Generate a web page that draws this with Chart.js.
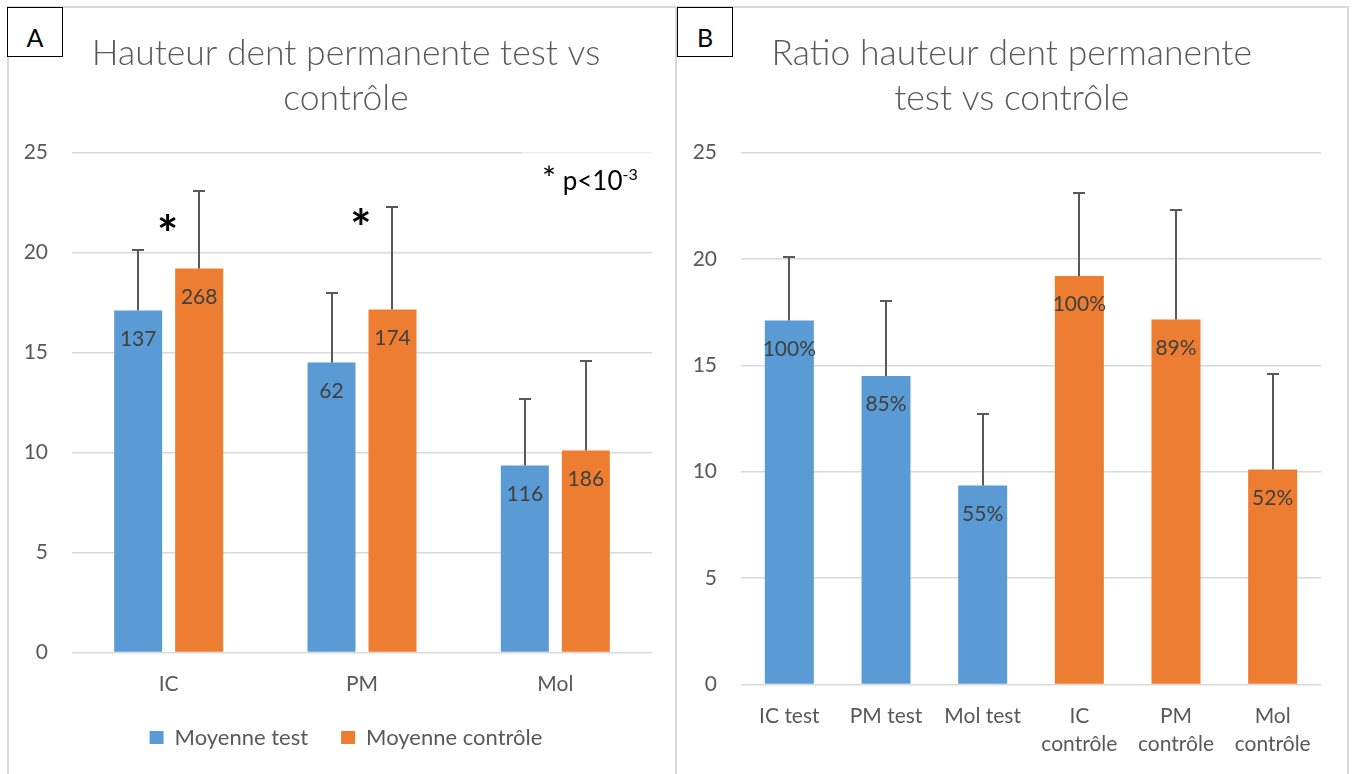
<!DOCTYPE html>
<html lang="fr">
<head>
<meta charset="utf-8">
<title>Hauteur dent permanente test vs contrôle</title>
<script src="https://cdn.jsdelivr.net/npm/chart.js@4.4.1/dist/chart.umd.min.js"></script>
<style>
  html, body { margin: 0; padding: 0; background: #fff; }
  body { width: 1352px; height: 774px; position: relative; overflow: hidden; font-family: Lato, 'Open Sans', sans-serif; }
  canvas { position: absolute; top: 0; }
  #chartA { left: 0; }
  #chartB { left: 676px; }
  .line { position: absolute; background: #d9d9d9; z-index: 2; }
  .tag { position: absolute; top: 7px; width: 54px; height: 43px; padding-top: 5px; border: 1px solid #000; background: #fff;
         font-size: 25px; line-height: 48px; text-align: center; color: #000; z-index: 3; }
  .pnote { position: absolute; left: 522px; top: 140px; width: 130px; height: 60px; background: rgba(255,255,255,0.55); z-index: 3; }
  .pnote span.t { position: absolute; left: 20px; top: 25px; font-size: 26px; line-height: 30px; color: #000; white-space: nowrap; }
  .pnote span.star { font-size: 33px; line-height: 0; }
  .pnote sup { font-size: 16px; position: relative; top: -10px; vertical-align: baseline; line-height: 0; }
</style>
</head>
<body>
<canvas id="chartA" width="676" height="774"></canvas>
<canvas id="chartB" width="676" height="774"></canvas>

<div class="line" style="left:8px; top:6px; width:1340px; height:2px;"></div>
<div class="line" style="left:7px; top:6px; width:2px; height:768px;"></div>
<div class="line" style="left:675px; top:6px; width:2px; height:768px;"></div>
<div class="line" style="left:1347px; top:6px; width:2px; height:768px;"></div>
<div class="tag" style="left:7px;">A</div>
<div class="tag" style="left:677px;">B</div>
<div class="pnote"><span class="t"><span class="star">*</span> p&lt;10<sup>-3</sup></span></div>

<script>
// ---- data ----
const groups = ['IC', 'PM', 'Mol'];
const testMean = [17.1, 14.5, 9.35];
const ctrlMean = [19.2, 17.15, 10.1];
const testSD = [3.0, 3.5, 3.35];
const ctrlSD = [3.9, 5.15, 4.5];
const testN = ['137', '62', '116'];
const ctrlN = ['268', '174', '186'];
const testRatio = ['100%', '85%', '55%'];
const ctrlRatio = ['100%', '89%', '52%'];
const starLevel = [21.5, 21.8, null];   // height of the "*" marks, in axis units
const ratioLabels = ['IC test', 'PM test', 'Mol test', ['IC', 'contrôle'], ['PM', 'contrôle'], ['Mol', 'contrôle']];
const titleA = ['Hauteur dent permanente test vs', 'contrôle'];
const titleB = ['Ratio hauteur dent permanente', 'test vs contrôle'];

const BLUE = '#5b9bd5', ORANGE = '#ed7d31', GREY = '#595959', GRID = '#d9d9d9';
const FONT = 'Lato';

// draw text centred on its real glyph box
function textMiddle(ctx, str, x, cy) {
  const m = ctx.measureText(str);
  ctx.fillText(str, x, cy + (m.actualBoundingBoxAscent - m.actualBoundingBoxDescent) / 2);
}

// error bars (upper only) + value labels inside the bar top
const barExtras = {
  id: 'barExtras',
  afterDatasetsDraw(chart) {
    const { ctx, scales: { y } } = chart;
    ctx.save();
    chart.data.datasets.forEach((ds, di) => {
      chart.getDatasetMeta(di).data.forEach((bar, i) => {
        const x = Math.round(bar.x);
        const end = Math.round(y.getPixelForValue(ds.data[i] + ds.sd[i]));
        ctx.strokeStyle = GREY;
        ctx.lineWidth = 2;
        ctx.beginPath();
        ctx.moveTo(x, bar.y); ctx.lineTo(x, end);
        ctx.moveTo(x - 6, end); ctx.lineTo(x + 6, end);
        ctx.stroke();

        ctx.fillStyle = '#404040';
        ctx.font = `21px ${FONT}`;
        ctx.textAlign = 'center';
        ctx.textBaseline = 'alphabetic';
        textMiddle(ctx, ds.valueLabels[i], bar.x, bar.y + 27.5);
      });
    });
    ctx.restore();
  }
};

// significance asterisks above the groups
const sigStars = {
  id: 'sigStars',
  afterDatasetsDraw(chart, args, opts) {
    const { ctx, scales: { x, y } } = chart;
    ctx.save();
    ctx.fillStyle = '#000';
    ctx.font = `bold 50px ${FONT}`;
    ctx.textAlign = 'center';
    ctx.textBaseline = 'alphabetic';
    opts.levels.forEach((v, i) => {
      if (v == null) return;
      textMiddle(ctx, '*', x.getPixelForValue(i) - 1, y.getPixelForValue(v));
    });
    ctx.restore();
  }
};

// y tick labels sit left of the padded layout box; let them draw there
const unclipTicks = {
  id: 'unclipTicks',
  afterLayout(chart) { chart.scales.y.left = 0; }
};

const yAxis = (width) => ({
  min: 0, max: 25,
  ticks: { stepSize: 5, color: GREY, font: { family: FONT, size: 21 }, padding: 24 },
  grid: { color: GRID, lineWidth: 1.5, drawTicks: false },
  border: { display: false },
  afterFit(scale) { scale.width = width; }
});

const xAxis = (tickLen, lineHeight) => ({
  grid: { display: false, tickLength: tickLen },
  border: { display: false },
  ticks: { color: GREY, font: { family: FONT, size: 21, lineHeight }, padding: 0, maxRotation: 0, autoSkip: false }
});

const titleOpts = (text) => ({
  display: true, text, color: GREY,
  font: { family: FONT, size: 35.5, weight: 300, lineHeight: '45px' },
  padding: { top: 31.5, bottom: 31 }
});

// ── Panel A ──
new Chart(document.getElementById('chartA'), {
  type: 'bar',
  data: {
    labels: groups,
    datasets: [
      { label: 'Moyenne test', data: testMean, sd: testSD, valueLabels: testN, backgroundColor: BLUE },
      { label: 'Moyenne contrôle', data: ctrlMean, sd: ctrlSD, valueLabels: ctrlN, backgroundColor: ORANGE }
    ]
  },
  options: {
    responsive: false,
    animation: false,
    layout: { padding: { left: 40, right: 24, top: 0, bottom: 15.5 } },
    datasets: { bar: { categoryPercentage: 0.631, barPercentage: 0.787 } },
    plugins: {
      title: titleOpts(titleA),
      legend: {
        position: 'bottom',
        labels: { color: GREY, font: { family: FONT, size: 22 }, boxWidth: 14, boxHeight: 13, padding: 33 }
      },
      tooltip: { enabled: false },
      sigStars: { levels: starLevel }
    },
    scales: {
      x: xAxis(23, '18px'),
      y: yAxis(32)
    }
  },
  plugins: [barExtras, sigStars, unclipTicks]
});

// ── Panel B ──
new Chart(document.getElementById('chartB'), {
  type: 'bar',
  data: {
    labels: ratioLabels,
    datasets: [{
      label: 'Ratio',
      data: testMean.concat(ctrlMean),
      sd: testSD.concat(ctrlSD),
      valueLabels: testRatio.concat(ctrlRatio),
      backgroundColor: ratioLabels.map((_, i) => i < testMean.length ? BLUE : ORANGE)
    }]
  },
  options: {
    responsive: false,
    animation: false,
    layout: { padding: { left: 26.5, right: 31, top: 0, bottom: 15.3 } },
    datasets: { bar: { categoryPercentage: 1, barPercentage: 0.507 } },
    plugins: {
      title: titleOpts(titleB),
      legend: { display: false },
      tooltip: { enabled: false }
    },
    scales: {
      x: xAxis(18.2, '28px'),
      y: yAxis(38.5)
    }
  },
  plugins: [barExtras, unclipTicks]
});
</script>
</body>
</html>
